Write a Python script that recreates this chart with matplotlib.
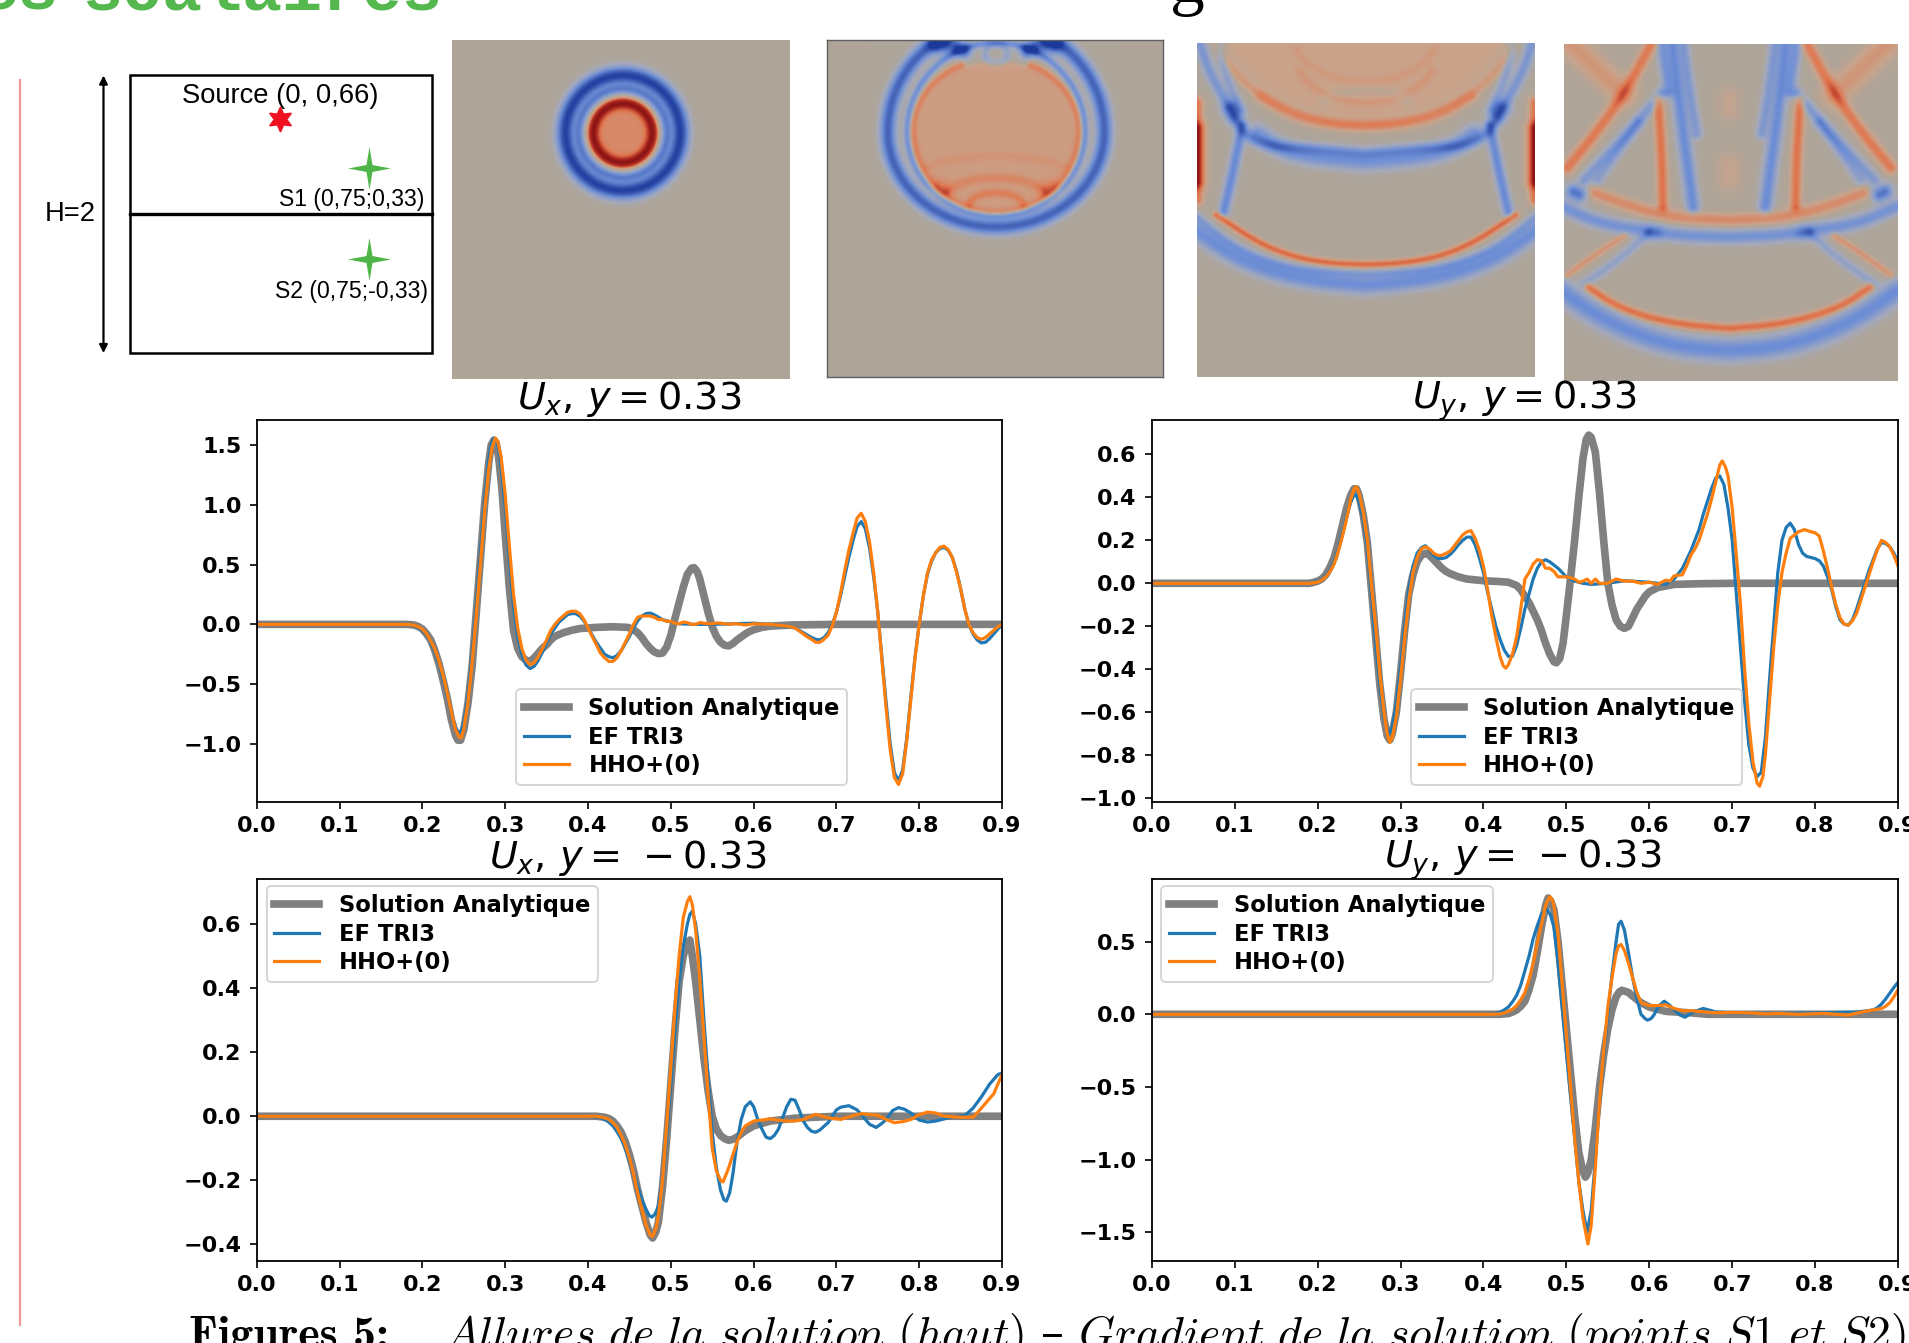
import numpy as np
import matplotlib
matplotlib.use("Agg")
import matplotlib.pyplot as plt
from matplotlib.colors import LinearSegmentedColormap
from matplotlib.patches import Rectangle

W, H = 1568.0, 1103.0  # layout unit: shrunk reference pixels

# ---------- curve data: (x, value) ----------
ux_p_gray = [(0,0),(.18,0),(.185,-.002),(.19,-.006),(.195,-.018),(.20,-.04),(.205,-.08),(.21,-.13),(.215,-.22),(.22,-.33),(.225,-.47),(.23,-.62),(.235,-.80),(.24,-.93),(.243,-.97),(.246,-.97),(.25,-.88),(.255,-.66),(.26,-.35),(.265,.1),(.27,.55),(.275,1.0),(.28,1.35),(.283,1.5),(.286,1.54),(.289,1.52),(.292,1.40),(.296,1.13),(.30,.75),(.305,.3),(.31,-.05),(.315,-.2),(.32,-.27),(.325,-.3),(.33,-.31),(.335,-.28),(.34,-.24),(.345,-.2),(.35,-.17),(.355,-.13),(.36,-.1),(.37,-.07),(.38,-.05),(.39,-.035),(.41,-.025),(.43,-.02),(.448,-.025),(.455,-.045),(.46,-.07),(.465,-.11),(.47,-.16),(.475,-.2),(.48,-.23),(.485,-.245),(.49,-.24),(.495,-.19),(.50,-.09),(.505,.05),(.51,.18),(.515,.31),(.52,.42),(.525,.47),(.528,.475),(.532,.44),(.535,.38),(.54,.24),(.545,.1),(.55,-.02),(.555,-.1),(.56,-.15),(.565,-.175),(.57,-.18),(.575,-.16),(.58,-.13),(.585,-.105),(.59,-.08),(.595,-.06),(.60,-.045),(.61,-.025),(.62,-.015),(.645,-.005),(.7,0),(.9,0)]
ux_p_blue = [(0,0),(.18,0),(.185,-.004),(.19,-.01),(.195,-.025),(.20,-.05),(.205,-.09),(.21,-.15),(.215,-.23),(.22,-.33),(.225,-.46),(.23,-.6),(.235,-.75),(.24,-.86),(.243,-.9),(.246,-.9),(.25,-.82),(.255,-.6),(.26,-.27),(.265,.15),(.27,.6),(.275,1.03),(.28,1.38),(.283,1.5),(.286,1.56),(.289,1.55),(.292,1.47),(.296,1.27),(.30,.98),(.305,.55),(.31,.15),(.315,-.1),(.32,-.25),(.325,-.34),(.33,-.37),(.335,-.35),(.34,-.3),(.345,-.23),(.35,-.15),(.355,-.08),(.36,-.03),(.365,.02),(.37,.05),(.375,.08),(.38,.09),(.385,.09),(.39,.07),(.395,.03),(.40,-.03),(.405,-.09),(.41,-.15),(.415,-.2),(.42,-.25),(.425,-.27),(.43,-.28),(.435,-.26),(.44,-.22),(.445,-.16),(.45,-.1),(.455,-.03),(.46,.03),(.465,.07),(.47,.09),(.475,.095),(.48,.08),(.485,.06),(.49,.04),(.50,.02),(.51,.005),(.53,0),(.55,0),(.60,.01),(.62,0),(.64,-.02),(.65,-.03),(.655,-.05),(.66,-.07),(.665,-.09),(.67,-.11),(.675,-.125),(.68,-.13),(.685,-.11),(.69,-.07),(.695,0),(.70,.1),(.705,.24),(.71,.4),(.715,.56),(.72,.7),(.725,.82),(.73,.86),(.735,.8),(.74,.64),(.745,.4),(.75,.1),(.755,-.28),(.76,-.65),(.765,-1.0),(.77,-1.24),(.775,-1.31),(.78,-1.22),(.785,-.95),(.79,-.6),(.795,-.27),(.80,0),(.805,.24),(.81,.42),(.815,.53),(.82,.6),(.825,.635),(.83,.645),(.835,.62),(.84,.56),(.845,.45),(.85,.3),(.855,.13),(.86,0),(.865,-.08),(.87,-.13),(.875,-.155),(.88,-.15),(.885,-.12),(.89,-.08),(.895,-.04),(.90,0)]
ux_p_orng = [(0,0),(.18,0),(.185,-.003),(.19,-.007),(.195,-.02),(.20,-.04),(.205,-.08),(.21,-.14),(.215,-.21),(.22,-.31),(.225,-.43),(.23,-.58),(.235,-.74),(.24,-.88),(.244,-.94),(.247,-.95),(.25,-.87),(.255,-.65),(.26,-.32),(.265,.08),(.27,.5),(.275,.95),(.28,1.3),(.284,1.48),(.288,1.56),(.291,1.53),(.295,1.4),(.30,1.08),(.305,.65),(.31,.25),(.315,-.03),(.32,-.2),(.325,-.3),(.33,-.34),(.335,-.32),(.34,-.27),(.345,-.2),(.35,-.13),(.355,-.05),(.36,0),(.365,.04),(.37,.07),(.375,.1),(.38,.11),(.385,.11),(.39,.09),(.395,.04),(.40,-.03),(.405,-.1),(.41,-.17),(.415,-.24),(.42,-.28),(.425,-.31),(.43,-.31),(.435,-.28),(.44,-.22),(.445,-.15),(.45,-.08),(.455,0),(.46,.06),(.465,.07),(.47,.07),(.475,.07),(.48,.06),(.485,.04),(.49,.04),(.495,.025),(.50,.025),(.505,.01),(.51,.005),(.515,.02),(.52,.015),(.525,0),(.53,0),(.535,.015),(.54,.01),(.545,.005),(.55,.005),(.555,.012),(.56,.01),(.57,0),(.575,.005),(.58,.005),(.59,-.005),(.60,.005),(.62,0),(.64,-.015),(.65,-.03),(.655,-.055),(.66,-.08),(.665,-.105),(.67,-.125),(.675,-.15),(.68,-.15),(.685,-.125),(.69,-.09),(.695,-.01),(.70,.1),(.705,.26),(.71,.45),(.715,.62),(.72,.76),(.725,.89),(.73,.93),(.735,.86),(.74,.69),(.745,.43),(.75,.1),(.755,-.3),(.76,-.7),(.765,-1.05),(.77,-1.28),(.775,-1.34),(.78,-1.25),(.785,-.97),(.79,-.62),(.795,-.28),(.80,0),(.805,.24),(.81,.43),(.815,.54),(.82,.6),(.825,.645),(.83,.655),(.835,.625),(.84,.56),(.845,.44),(.85,.3),(.855,.13),(.86,0),(.865,-.07),(.87,-.11),(.875,-.125),(.88,-.11),(.885,-.08),(.89,-.05),(.895,-.02),(.90,0)]

uy_p_gray = [(0,0),(.19,0),(.195,.004),(.20,.01),(.205,.02),(.21,.04),(.215,.075),(.22,.12),(.225,.19),(.23,.27),(.235,.35),(.24,.41),(.244,.44),(.247,.44),(.25,.41),(.255,.32),(.26,.19),(.265,-.03),(.27,-.25),(.275,-.47),(.28,-.63),(.284,-.71),(.287,-.73),(.29,-.7),(.295,-.6),(.30,-.42),(.305,-.22),(.31,-.05),(.315,.04),(.32,.1),(.325,.13),(.33,.14),(.335,.13),(.34,.11),(.345,.09),(.35,.07),(.355,.055),(.36,.045),(.37,.03),(.38,.02),(.40,.012),(.42,.008),(.43,.005),(.44,-.01),(.445,-.03),(.45,-.06),(.455,-.09),(.46,-.13),(.465,-.17),(.47,-.22),(.475,-.28),(.48,-.33),(.485,-.365),(.488,-.37),(.492,-.35),(.496,-.28),(.50,-.15),(.505,.02),(.51,.2),(.515,.4),(.52,.58),(.524,.67),(.527,.69),(.53,.68),(.535,.61),(.54,.42),(.545,.2),(.55,0),(.555,-.1),(.56,-.17),(.565,-.2),(.57,-.21),(.575,-.2),(.58,-.16),(.585,-.12),(.59,-.09),(.595,-.06),(.60,-.04),(.61,-.02),(.63,-.005),(.66,-.002),(.70,0),(.9,0)]
uy_p_blue = [(0,0),(.19,0),(.195,.004),(.20,.01),(.205,.018),(.21,.035),(.215,.06),(.22,.1),(.225,.16),(.23,.23),(.235,.31),(.24,.38),(.244,.41),(.247,.41),(.25,.38),(.255,.3),(.26,.17),(.265,-.05),(.27,-.27),(.275,-.47),(.28,-.62),(.284,-.68),(.287,-.7),(.29,-.67),(.295,-.56),(.30,-.4),(.305,-.2),(.31,-.03),(.315,.08),(.32,.14),(.325,.165),(.33,.175),(.335,.155),(.34,.13),(.345,.115),(.35,.115),(.355,.12),(.36,.135),(.365,.155),(.37,.18),(.375,.2),(.38,.215),(.385,.215),(.39,.18),(.395,.12),(.40,.05),(.405,-.04),(.41,-.12),(.415,-.2),(.42,-.26),(.425,-.31),(.43,-.34),(.435,-.34),(.44,-.29),(.445,-.21),(.45,-.12),(.455,-.05),(.46,.02),(.465,.07),(.47,.1),(.475,.11),(.48,.1),(.485,.085),(.49,.07),(.50,.03),(.51,.01),(.52,0),(.53,-.005),(.55,0),(.57,.012),(.60,.005),(.62,-.005),(.63,.02),(.635,.045),(.64,.07),(.645,.11),(.65,.15),(.655,.2),(.66,.25),(.665,.32),(.67,.38),(.675,.44),(.68,.49),(.685,.5),(.69,.46),(.695,.35),(.70,.2),(.705,-.05),(.71,-.3),(.715,-.55),(.72,-.75),(.725,-.86),(.73,-.9),(.735,-.88),(.74,-.72),(.745,-.45),(.75,-.2),(.755,.05),(.76,.2),(.765,.26),(.77,.28),(.775,.25),(.78,.18),(.785,.14),(.79,.125),(.80,.115),(.805,.105),(.81,.08),(.815,.03),(.82,-.03),(.825,-.11),(.83,-.17),(.835,-.19),(.84,-.195),(.845,-.17),(.85,-.12),(.855,-.06),(.86,0),(.865,.06),(.87,.11),(.875,.16),(.88,.19),(.885,.185),(.89,.17),(.895,.14),(.90,.1)]
uy_p_orng = [(0,0),(.19,0),(.195,.002),(.20,.006),(.205,.015),(.21,.03),(.215,.055),(.22,.09),(.225,.15),(.23,.22),(.235,.3),(.24,.39),(.244,.44),(.247,.45),(.25,.42),(.255,.33),(.26,.2),(.265,-.01),(.27,-.2),(.275,-.42),(.28,-.6),(.284,-.7),(.287,-.74),(.29,-.72),(.295,-.62),(.30,-.45),(.305,-.25),(.31,-.08),(.315,.05),(.32,.12),(.325,.16),(.33,.17),(.335,.16),(.34,.14),(.345,.13),(.35,.13),(.355,.14),(.36,.15),(.365,.175),(.37,.2),(.375,.225),(.38,.24),(.385,.245),(.39,.21),(.395,.155),(.40,.08),(.405,-.03),(.41,-.15),(.415,-.25),(.42,-.34),(.424,-.385),(.427,-.395),(.43,-.38),(.435,-.33),(.44,-.25),(.445,-.12),(.45,.02),(.455,.05),(.46,.09),(.465,.11),(.47,.105),(.475,.07),(.48,.07),(.485,.055),(.49,.03),(.50,.03),(.505,.025),(.51,.02),(.515,.005),(.52,.01),(.525,.02),(.53,0),(.535,.02),(.54,0),(.55,0),(.555,.01),(.56,.02),(.57,.01),(.58,.01),(.59,0),(.60,.005),(.61,-.005),(.62,.015),(.625,.01),(.63,.035),(.64,.04),(.645,.08),(.65,.13),(.655,.16),(.66,.2),(.665,.26),(.67,.32),(.675,.39),(.68,.47),(.685,.55),(.688,.57),(.692,.54),(.695,.5),(.70,.35),(.705,.13),(.71,-.1),(.715,-.4),(.72,-.65),(.725,-.83),(.73,-.93),(.733,-.945),(.737,-.9),(.74,-.8),(.745,-.55),(.75,-.3),(.755,-.1),(.76,.05),(.765,.14),(.77,.21),(.775,.225),(.78,.24),(.787,.25),(.795,.24),(.80,.235),(.805,.22),(.81,.15),(.815,.07),(.82,-.02),(.825,-.1),(.83,-.16),(.835,-.19),(.84,-.195),(.845,-.175),(.85,-.14),(.855,-.08),(.86,-.02),(.865,.04),(.87,.1),(.875,.155),(.88,.2),(.885,.19),(.89,.17),(.895,.13),(.90,.08)]

ux_m_gray = [(0,0),(.41,0),(.42,-.003),(.425,-.007),(.43,-.015),(.435,-.03),(.44,-.05),(.445,-.08),(.45,-.12),(.455,-.17),(.46,-.23),(.465,-.28),(.47,-.33),(.475,-.37),(.478,-.38),(.482,-.36),(.485,-.33),(.49,-.22),(.495,-.07),(.50,.1),(.505,.27),(.51,.42),(.515,.5),(.52,.54),(.523,.55),(.526,.5),(.53,.42),(.535,.3),(.54,.18),(.545,.08),(.55,0),(.555,-.04),(.56,-.06),(.565,-.07),(.57,-.075),(.575,-.072),(.58,-.065),(.59,-.045),(.60,-.03),(.62,-.015),(.65,-.006),(.70,0),(.90,0)]
ux_m_blue = [(0,0),(.40,0),(.41,-.002),(.415,-.005),(.42,-.01),(.425,-.018),(.43,-.03),(.435,-.048),(.44,-.07),(.445,-.1),(.45,-.14),(.455,-.18),(.46,-.22),(.465,-.26),(.47,-.29),(.474,-.31),(.477,-.315),(.481,-.305),(.485,-.28),(.49,-.2),(.495,-.06),(.50,.1),(.505,.27),(.51,.42),(.515,.53),(.52,.6),(.523,.63),(.526,.64),(.53,.6),(.535,.5),(.54,.3),(.545,.12),(.55,-.05),(.555,-.16),(.56,-.23),(.564,-.26),(.567,-.265),(.571,-.24),(.575,-.18),(.58,-.08),(.585,-.01),(.59,.03),(.596,.045),(.60,.03),(.605,-.01),(.61,-.04),(.615,-.065),(.62,-.07),(.625,-.06),(.63,-.04),(.635,-.005),(.64,.03),(.645,.053),(.65,.05),(.655,.02),(.66,-.015),(.665,-.035),(.67,-.047),(.675,-.05),(.68,-.043),(.69,-.02),(.70,.02),(.705,.028),(.715,.033),(.725,.02),(.73,.005),(.74,-.025),(.748,-.035),(.755,-.022),(.76,-.01),(.768,.018),(.775,.027),(.782,.022),(.79,.01),(.80,-.012),(.81,-.018),(.82,-.015),(.84,-.002),(.855,.002),(.865,.025),(.875,.06),(.885,.1),(.895,.13),(.90,.135)]
ux_m_orng = [(0,0),(.41,0),(.42,-.005),(.425,-.01),(.43,-.02),(.435,-.035),(.44,-.06),(.445,-.09),(.45,-.13),(.455,-.18),(.46,-.24),(.465,-.29),(.47,-.34),(.475,-.37),(.478,-.375),(.482,-.35),(.485,-.31),(.49,-.2),(.495,-.03),(.50,.15),(.505,.34),(.51,.5),(.515,.62),(.52,.67),(.523,.685),(.526,.66),(.53,.58),(.535,.43),(.54,.25),(.545,.07),(.55,-.1),(.555,-.17),(.56,-.2),(.563,-.205),(.567,-.18),(.57,-.16),(.575,-.12),(.58,-.08),(.585,-.05),(.59,-.03),(.60,-.015),(.61,-.012),(.62,-.008),(.63,-.012),(.64,-.015),(.65,-.015),(.66,-.01),(.675,.006),(.69,-.005),(.705,-.01),(.72,.002),(.73,.008),(.75,.003),(.76,-.01),(.77,-.02),(.78,-.017),(.79,-.01),(.80,.005),(.81,.013),(.82,.01),(.83,0),(.85,-.003),(.865,-.003),(.87,.01),(.88,.04),(.885,.055),(.89,.07),(.895,.1),(.90,.13)]

uy_m_gray = [(0,0),(.42,0),(.43,.005),(.435,.015),(.44,.03),(.445,.055),(.45,.09),(.455,.17),(.46,.27),(.465,.43),(.47,.6),(.475,.75),(.478,.8),(.481,.78),(.485,.72),(.49,.5),(.495,.2),(.50,-.1),(.505,-.4),(.51,-.7),(.515,-.95),(.52,-1.08),(.523,-1.12),(.526,-1.09),(.53,-1.0),(.535,-.78),(.54,-.5),(.545,-.28),(.55,-.1),(.555,.03),(.56,.12),(.564,.155),(.567,.165),(.57,.16),(.575,.15),(.58,.125),(.59,.08),(.60,.05),(.62,.02),(.65,.01),(.67,0),(.90,0)]
uy_m_blue = [(0,0),(.40,0),(.41,.003),(.415,.007),(.42,.015),(.425,.03),(.43,.05),(.435,.085),(.44,.13),(.445,.2),(.45,.3),(.455,.4),(.46,.52),(.465,.61),(.47,.69),(.474,.715),(.477,.72),(.481,.68),(.485,.6),(.49,.35),(.495,.05),(.50,-.25),(.505,-.55),(.51,-.85),(.515,-1.15),(.52,-1.35),(.525,-1.5),(.53,-1.35),(.535,-1.0),(.54,-.6),(.545,-.28),(.55,0),(.555,.27),(.56,.5),(.563,.62),(.566,.64),(.57,.58),(.575,.42),(.58,.25),(.585,.11),(.59,0),(.595,-.03),(.598,-.04),(.602,-.03),(.605,-.01),(.612,.06),(.618,.09),(.625,.06),(.63,.03),(.637,-.005),(.643,-.02),(.65,.005),(.655,.02),(.665,.04),(.675,.025),(.68,.015),(.70,.01),(.75,.005),(.85,.015),(.87,.03),(.875,.045),(.88,.07),(.885,.105),(.89,.145),(.895,.185),(.90,.22)]
uy_m_orng = [(0,0),(.41,0),(.42,.003),(.425,.01),(.43,.02),(.435,.035),(.44,.06),(.445,.1),(.45,.15),(.455,.24),(.46,.35),(.465,.49),(.47,.62),(.475,.75),(.48,.81),(.483,.79),(.485,.75),(.49,.55),(.495,.2),(.50,-.15),(.505,-.5),(.51,-.85),(.515,-1.15),(.52,-1.4),(.526,-1.58),(.53,-1.45),(.535,-1.05),(.54,-.6),(.545,-.25),(.55,.05),(.555,.25),(.56,.42),(.563,.47),(.566,.48),(.57,.44),(.575,.35),(.58,.25),(.585,.15),(.59,.08),(.60,.06),(.61,.06),(.62,.065),(.63,.04),(.64,.025),(.65,.025),(.66,.02),(.68,.01),(.70,.012),(.72,.01),(.74,.003),(.76,.005),(.78,0),(.81,.006),(.84,-.005),(.86,.02),(.88,.04),(.885,.055),(.89,.08),(.895,.12),(.90,.17)]

series_labels = ["Solution Analytique", "EF TRI3", "HHO+(0)"]
x_ticks = [0, .1, .2, .3, .4, .5, .6, .7, .8, .9]

panels = [
    dict(box=(211, 345, 823, 659), ylim=(-1.49, 1.71), yt=[-1, -.5, 0, .5, 1, 1.5],
         title=r"$U_x,\, y = 0.33$", leg=(424, 644.5, "lower left"), cx=517,
         g=ux_p_gray, b=ux_p_blue, o=ux_p_orng),
    dict(box=(946, 345, 1559, 659), ylim=(-1.02, .76), yt=[-1, -.8, -.6, -.4, -.2, 0, .2, .4, .6],
         title=r"$U_y,\, y = 0.33$", leg=(1159, 644.5, "lower left"), cx=1252,
         g=uy_p_gray, b=uy_p_blue, o=uy_p_orng),
    dict(box=(211, 722, 823, 1036), ylim=(-.453, .74), yt=[-.4, -.2, 0, .2, .4, .6],
         title=r"$U_x,\, y = \,-0.33$", leg=(219, 728, "upper left"), cx=516,
         g=ux_m_gray, b=ux_m_blue, o=ux_m_orng),
    dict(box=(946, 722, 1559, 1036), ylim=(-1.70, .93), yt=[-1.5, -1, -.5, 0, .5],
         title=r"$U_y,\, y = \,-0.33$", leg=(954, 728, "upper left"), cx=1251,
         g=uy_m_gray, b=uy_m_blue, o=uy_m_orng),
]

# ---------- wave-field insets (positions relative to image, in layout units) ----------
cmap = LinearSegmentedColormap.from_list("field", [
    (0.0, "#1c3a9c"), (0.28, "#6f8fd6"), (0.45, "#a5aabb"), (0.5, "#afa599"),
    (0.56, "#c9a48c"), (0.72, "#e0774f"), (0.88, "#b02a20"), (1.0, "#7a0c10")])


def arc(cx, cy, rx, ry, a0=0, a1=360, ry2=None):
    t = np.radians(np.linspace(a0, a1, 90))
    ys = np.sin(t)
    r = np.where(ys > 0, ry2 if ry2 is not None else ry, ry)
    return np.c_[cx + rx * np.cos(t), cy + r * ys]


def smooth(p, n=3):
    p = np.asarray(p, float)
    for _ in range(n):
        q = np.empty((2 * len(p), 2))
        q[0::2] = .75 * p + .25 * np.roll(p, -1, 0)
        q[1::2] = .25 * p + .75 * np.roll(p, -1, 0)
        p = np.vstack([p[0], q[:-2], p[-1]])
    return p


def seg_dist(X, Y, Q):
    best = np.full(X.shape, 1e9)
    for A, B in zip(Q[:-1], Q[1:]):
        dd = B - A
        L = dd @ dd
        if L == 0:
            dist = np.hypot(X - A[0], Y - A[1])
        else:
            t = np.clip(((X - A[0]) * dd[0] + (Y - A[1]) * dd[1]) / L, 0, 1)
            dist = np.hypot(X - A[0] - t * dd[0], Y - A[1] - t * dd[1])
        best = np.minimum(best, dist)
    return best


def render(fills, strokes, size=277, n=300):
    g = (np.arange(n) + .5) / n * size
    X, Y = np.meshgrid(g, g)
    F = np.zeros_like(X)
    for cx, cy, rx, ry, ry2, amp, soft in fills:
        ryy = np.where(Y > cy, ry2, ry)
        d = np.hypot((X - cx) / rx, (Y - cy) / ryy)
        F += amp * np.clip((1 - d) / soft, 0, 1)
    for pts, w, amp, mirror, center in strokes:
        P = np.asarray(pts, float)
        dist = seg_dist(X, Y, P)
        if mirror:
            dist = np.minimum(dist, seg_dist(X, Y, np.c_[2 * center - P[:, 0], P[:, 1]]))
        F += amp * np.exp(-(dist / w) ** 2)
    return F


def S(pts, w, amp, mirror=True, center=138.5):
    return (smooth(pts) if len(pts) < 30 else pts, w, amp, mirror, center)


img1 = render(
    [(140, 76, 29, 29, 29, .3, .05)],
    [S(arc(140, 76, 24, 24), 4.8, .62, False), S(arc(140, 76, 36, 36), 3.8, -.5, False),
     S(arc(140, 76, 47, 47), 6.8, -.95, False)])

img2 = render(
    [(139, 79, 68, 63, 63, .17, .08)],
    [S(arc(139, 76, 68, 60, -65, 245, ry2=66), 3.2, .36, False),
     S(arc(139, 76, 73, 73, 0, 360, ry2=69), 3, -.42, False),
     S(arc(139, 76, 89, 89, 0, 360, ry2=78), 6, -.72, False),
     S(arc(139, 110, 60, 14, 200, 340), 4, .07, False),
     S(arc(139, 130, 42, 16, 200, 340), 4, .16, False), S(arc(139, 136, 22, 10, 180, 360), 3.5, .22, False),
     S([(92, 122), (96, 124)], 7, .25), S([(92, 3), (96, 3)], 8, -.9),
     S([(108, 8), (112, 9)], 6, -.85), S(arc(139, 12, 9, 8), 3.5, -.2, False)])

img3 = render(
    [(138, -30, 128, 99, 99, .13, .1)],
    [S(arc(138, -30, 128, 99, 0, 180), 4, .2, False),
     S(arc(138, -8, 60, 41, 20, 160), 3.5, .07, False), S(arc(138, 10, 58, 40, 20, 160), 3.5, .09, False),
     S(arc(138, 50, 35, 10, 180, 360), 5, -.07, False),
     S([(52, 45), (80, 62), (110, 68), (138, 69)], 5, .2),
     S([(2, 0), (10, 25), (27, 55), (35, 72), (52, 85), (90, 88), (138, 92)], 4.5, -.36),
     S([(18, 0), (24, 30), (35, 55)], 4, -.25),
     S([(28, 55), (31, 60)], 7, -.55),
     S([(50, 76), (70, 90), (100, 96), (138, 99)], 7, -.4),
     S([(37, 69), (30, 105), (22, 140)], 4.2, -.48),
     S([(0, 50), (0, 90), (0, 130)], 4.5, .45),
     S([(0, 72), (0, 95), (0, 115)], 6.5, .5),
     S([(16, 143), (50, 166), (80, 178), (110, 183), (138, 184)], 2.8, .5),
     S([(-2, 143), (30, 170), (70, 186), (110, 191), (138, 192)], 3.5, -.26),
     S([(-2, 155), (30, 178), (70, 193), (110, 199), (138, 201)], 7, -.45)])

img4 = render(
    [],
    [S([(90, 0), (97, 60), (107, 134)], 5.4, -.46, center=137),
     S([(81, 0), (84, 20), (87, 40)], 4.6, -.36, center=137),
     S([(99, 0), (104, 40), (110, 74)], 4.5, -.32, center=137),
     S([(73, 0), (50, 41), (28, 72), (3, 102)], 4.8, .42, center=137),
     S([(5, 0), (28, 22), (50, 42)], 10, .22, center=137),
     S([(78, 47), (81, 90), (82, 134)], 4.2, .46, center=137),
     S([(81, 41), (55, 72), (17, 112)], 4.6, -.32, center=137),
     S([(62, 65), (40, 95), (28, 112)], 4.5, -.24, center=137),
     S([(137, 45), (137, 55)], 9, .09, False),
     S([(137, 100), (137, 112)], 10, .1, False),
     S([(26, 123), (50, 132), (81, 141), (110, 144), (137, 145)], 4.8, .3, center=137),
     S([(-2, 134), (30, 148), (70, 154), (100, 158), (137, 159)], 5.4, -.4, center=137),
     S([(8, 122), (12, 124)], 6, -.6, center=137),
     S([(72, 155), (76, 156)], 6, -.25, center=137),
     S([(70, 156), (45, 178), (17, 197)], 3.8, -.22, center=137),
     S([(50, 158), (28, 172), (3, 190)], 2.8, .24, center=137),
     S([(20, 200), (42, 215), (70, 225), (100, 231), (137, 234)], 3.4, .48, center=137),
     S([(-2, 203), (25, 222), (58, 238), (95, 249), (137, 252)], 8.5, -.46, center=137)])

images = [(img1, (371, 33, 648, 311), False), (img2, (679, 33, 955, 310), True),
          (img3, (983, 35, 1260, 310), False), (img4, (1285, 36, 1559, 313), False)]

# ---------- figure ----------
fig = plt.figure(figsize=(19.09, 13.43), dpi=100, facecolor="white")


def axes_at(x0, y0, x1, y1, **kw):
    return fig.add_axes([x0 / W, 1 - y1 / H, (x1 - x0) / W, (y1 - y0) / H], **kw)


overlay = axes_at(0, 0, W, H)
overlay.set_xlim(0, W)
overlay.set_ylim(H, 0)
overlay.axis("off")
overlay.set_zorder(5)
overlay.patch.set_alpha(0)

for F, (x0, y0, x1, y1), bordered in images:
    a = axes_at(x0, y0, x1, y1)
    a.imshow(F, cmap=cmap, vmin=-1, vmax=1, interpolation="bilinear", aspect="auto")
    a.set_xticks([])
    a.set_yticks([])
    for s in a.spines.values():
        s.set_visible(bordered)
        s.set_color("#606060")
        s.set_linewidth(1.0)

for p in panels:
    ax = axes_at(*p["box"])
    for key, color, lw, label in (("g", "gray", 5.5, series_labels[0]),
                                  ("b", "#1f77b4", 2.3, series_labels[1]),
                                  ("o", "#ff7f0e", 2.3, series_labels[2])):
        xs, ys = zip(*p[key])
        ax.plot(xs, ys, color=color, lw=lw, label=label, solid_joinstyle="round")
    ax.set_xlim(0, .9)
    ax.set_ylim(*p["ylim"])
    ax.set_xticks(x_ticks)
    ax.set_yticks(p["yt"])
    ax.set_xticklabels([f"{t:.1f}" for t in x_ticks], fontweight="bold", fontsize=16)
    ax.set_yticklabels([f"{t:.1f}".replace("-", "\u2212") for t in p["yt"]], fontweight="bold", fontsize=16)
    ax.tick_params(axis="x", length=5, width=1.2, pad=4.5)
    ax.tick_params(axis="y", length=5, width=1.2, pad=6)
    for s in ax.spines.values():
        s.set_linewidth(1.3)
    x0, y0, x1, y1 = p["box"]
    lx, ly, loc = p["leg"]
    leg = ax.legend(loc=loc, bbox_to_anchor=((lx - x0) / (x1 - x0), (y1 - ly) / (y1 - y0)), borderaxespad=0,
                    prop=dict(weight="bold", size=16.3), labelspacing=.25, handlelength=2.0,
                    handletextpad=.86, borderpad=.33)
    leg.get_frame().set_linewidth(1.4)
    overlay.text(p["cx"], y0 - 9, p["title"], fontsize=27.5, ha="center", va="baseline")

# ---------- schematic ----------
ov = overlay
ov.add_patch(Rectangle((107, 62), 248, 228, fill=False, ec="black", lw=1.8))
ov.plot([107, 355], [176, 176], color="black", lw=2.4)
ov.annotate("", (85, 62), (85, 290), arrowprops=dict(arrowstyle="<|-|>", color="black", lw=1.6, mutation_scale=12, shrinkA=0, shrinkB=0))
ov.plot([16.5, 16.5], [66, 1088], color="#ee9a9a", lw=1.6)
sans = ["Liberation Sans"]
ov.text(58, 176, "H=2", family=sans, fontsize=19.7, ha="center", va="center")
ov.text(230.5, 79, "Source (0, 0,66)", family=sans, fontsize=19.7, ha="center", va="center")
ov.text(289, 164, "S1 (0,75;0,33)", family=sans, fontsize=16.6, ha="center", va="center")
ov.text(289, 239, "S2 (0,75;-0,33)", family=sans, fontsize=16.6, ha="center", va="center")
ov.plot([230], [98], marker=(6, 1, 0), ms=18, color="#f01020", mec="#f01020")
star4 = [(0, -1), (.14, -.16), (1, 0), (.14, .16), (0, 1), (-.14, .16), (-1, 0), (-.14, -.16)]
for y in (138, 213):
    ov.plot([303], [y], marker=star4, ms=31, color="#4fb548", mew=0)

# ---------- cut-off heading and caption ----------
plt.rcParams["mathtext.fontset"] = "cm"
mono = ["Liberation Mono"]
ov.text(48, 7.5, "es", family=mono, fontsize=48, color="#55b84f", ha="right", va="baseline", fontweight="bold")
ov.text(363, 7.5, "scalaires", family=mono, fontsize=48, color="#55b84f", ha="right", va="baseline", fontweight="bold")
ov.text(975, 2, "g", family=["Liberation Serif"], fontsize=50, color="black", ha="center", va="baseline")
ov.text(155, 1107, "Figures 5:", family=["cmb10"], fontsize=33, ha="left", va="baseline")
ov.text(365, 1107,
        r"$\mathit{Allures\ de\ la\ solution\ (haut)}$ – "
        r"$\mathit{Gradient\ de\ la\ solution\ (points\ S1\ et\ S2)}$",
        fontsize=33, ha="left", va="baseline", math_fontfamily="cm", family=["DejaVu Serif"])

fig.savefig("out.png", dpi=100)
